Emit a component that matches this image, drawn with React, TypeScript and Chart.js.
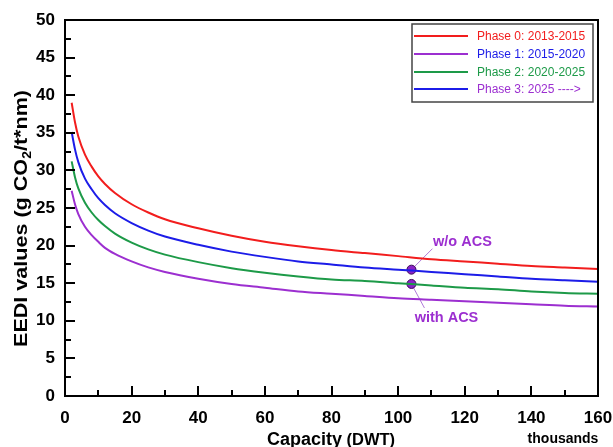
import React, { useEffect, useRef } from 'react';
import { Chart, registerables } from 'chart.js';

Chart.register(...registerables);

// ---- data ----
const capacity = [2, 3, 4, 6, 8, 10, 12, 15, 20, 25, 30, 40, 50, 60, 70, 80, 90, 100, 110, 120, 130, 140, 150, 160];
const phase0 = [39.0, 36.4, 34.5, 32.1, 30.5, 29.2, 28.2, 27.0, 25.5, 24.4, 23.5, 22.3, 21.3, 20.5, 19.9, 19.4, 19.0, 18.6, 18.2, 17.9, 17.6, 17.3, 17.1, 16.9];
const phase1 = [35.1, 32.8, 31.1, 28.9, 27.5, 26.3, 25.4, 24.3, 23.0, 22.0, 21.2, 20.1, 19.2, 18.5, 17.9, 17.5, 17.1, 16.8, 16.5, 16.2, 15.9, 15.6, 15.4, 15.2];
const phase2 = [31.2, 29.1, 27.6, 25.7, 24.4, 23.4, 22.6, 21.6, 20.4, 19.5, 18.8, 17.8, 17.0, 16.4, 15.9, 15.5, 15.3, 15.0, 14.7, 14.4, 14.2, 13.9, 13.7, 13.6];
const phase3 = [27.3, 25.5, 24.2, 22.5, 21.4, 20.5, 19.7, 18.9, 17.9, 17.1, 16.5, 15.6, 14.9, 14.4, 13.9, 13.6, 13.3, 13.0, 12.8, 12.6, 12.4, 12.2, 12.0, 11.9];

const seriesLabels = ['Phase 0: 2013-2015', 'Phase 1: 2015-2020', 'Phase 2: 2020-2025', 'Phase 3: 2025 ---->'];
const seriesColors = ['#f21d1d', '#1c1ce8', '#1d9a48', '#9c2fd0'];
// legend sample lines / texts as they appear in the reference
const legendLineColors = ['#f21d1d', '#9c2fd0', '#1d9a48', '#1c1ce8'];
const legendTextColors = ['#f21d1d', '#1c1ce8', '#1d9a48', '#9c2fd0'];

const markerX = [104, 104];
const markerY = [16.8, 14.9];
const markerLabels = ['w/o ACS', 'with ACS'];

const xMin = 0, xMax = 160, xMajor = 20, xMinor = 10;
const yMin = 0, yMax = 50, yMajor = 5, yMinor = 2.5;

const yTitleA = 'EEDI values (g CO';
const yTitleSub = '2';
const yTitleB = '/t*nm)';
const xTitleMain = 'Capacity';
const xTitleUnit = ' (DWT)';
const xUnitNote = 'thousands';

const FONT = '"Liberation Sans", Arial, Helvetica, sans-serif';
const PURPLE = '#9c2fd0';

const decorPlugin = {
  id: 'decor',
  beforeDatasetsDraw(chart: any) {
    const { ctx, scales } = chart;
    const xs = scales.x, ys = scales.y;
    ctx.save();
    ctx.strokeStyle = '#b07ad8';
    ctx.lineWidth = 1;
    const p0x = xs.getPixelForValue(markerX[0]);
    const p0y = ys.getPixelForValue(markerY[0]);
    ctx.beginPath();
    ctx.moveTo(p0x, p0y);
    ctx.lineTo(p0x + 21, p0y - 21);
    ctx.stroke();
    const p1x = xs.getPixelForValue(markerX[1]);
    const p1y = ys.getPixelForValue(markerY[1]);
    ctx.beginPath();
    ctx.moveTo(p1x, p1y);
    ctx.lineTo(p1x + 13, p1y + 24);
    ctx.stroke();
    ctx.restore();
  },
  afterDraw(chart: any) {
    const { ctx, chartArea, scales } = chart;
    const xs = scales.x, ys = scales.y;
    const { left, right, top, bottom } = chartArea;
    ctx.save();
    // frame
    ctx.strokeStyle = '#000';
    ctx.lineWidth = 2;
    ctx.strokeRect(left, top, right - left, bottom - top);
    // inward ticks
    ctx.beginPath();
    for (let v = xMin; v <= xMax + 1e-9; v += xMinor) {
      const px = Math.round(xs.getPixelForValue(v));
      const len = Math.abs(v % xMajor) < 1e-9 ? 10 : 6;
      ctx.moveTo(px, bottom);
      ctx.lineTo(px, bottom - len);
    }
    for (let v = yMin; v <= yMax + 1e-9; v += yMinor) {
      const py = Math.round(ys.getPixelForValue(v));
      const len = Math.abs(v % yMajor) < 1e-9 ? 10 : 6;
      ctx.moveTo(left, py);
      ctx.lineTo(left + len, py);
    }
    ctx.stroke();

    // legend
    const bw = 181, bh = 78;
    const bx = right - 5 - bw, by = top + 4;
    ctx.fillStyle = '#fff';
    ctx.fillRect(bx, by, bw, bh);
    ctx.strokeStyle = '#444';
    ctx.lineWidth = 1.5;
    ctx.strokeRect(bx, by, bw, bh);
    const rows = [12, 30, 48, 65];
    ctx.font = `12px ${FONT}`;
    ctx.textBaseline = 'middle';
    ctx.textAlign = 'left';
    for (let i = 0; i < seriesLabels.length; i++) {
      const ry = by + rows[i];
      ctx.strokeStyle = legendLineColors[i];
      ctx.lineWidth = 2;
      ctx.beginPath();
      ctx.moveTo(bx + 2, ry);
      ctx.lineTo(bx + 56, ry);
      ctx.stroke();
      ctx.fillStyle = legendTextColors[i];
      ctx.fillText(seriesLabels[i], bx + 65, ry + 1);
    }

    // annotation texts
    ctx.fillStyle = PURPLE;
    ctx.font = `bold 14.5px ${FONT}`;
    ctx.textAlign = 'center';
    const p0x = xs.getPixelForValue(markerX[0]);
    const p0y = ys.getPixelForValue(markerY[0]);
    ctx.fillText(markerLabels[0], p0x + 51, p0y - 28);
    const p1x = xs.getPixelForValue(markerX[1]);
    const p1y = ys.getPixelForValue(markerY[1]);
    ctx.fillText(markerLabels[1], p1x + 35, p1y + 34);

    // y title (rotated, with subscript)
    ctx.fillStyle = '#000';
    ctx.textBaseline = 'alphabetic';
    ctx.textAlign = 'left';
    const big = `bold 18.5px ${FONT}`;
    const small = `bold 12px ${FONT}`;
    ctx.font = big;
    const wA = ctx.measureText(yTitleA).width;
    const wB = ctx.measureText(yTitleB).width;
    ctx.font = small;
    const wS = ctx.measureText(yTitleSub).width;
    const total = wA + wS + wB;
    const target = 257;
    const sc = target / total;
    ctx.translate(27, 218.5);
    ctx.rotate(-Math.PI / 2);
    ctx.scale(sc, 1);
    let cx = -total / 2;
    ctx.font = big;
    ctx.fillText(yTitleA, cx, 0);
    cx += wA;
    ctx.font = small;
    ctx.fillText(yTitleSub, cx, 4);
    cx += wS;
    ctx.font = big;
    ctx.fillText(yTitleB, cx, 0);
    ctx.setTransform(1, 0, 0, 1, 0, 0);

    // x title
    ctx.font = `bold 18px ${FONT}`;
    const wM = ctx.measureText(xTitleMain).width;
    ctx.font = `bold 16.5px ${FONT}`;
    const wU = ctx.measureText(xTitleUnit).width;
    const tx = 331 - (wM + wU) / 2;
    ctx.textAlign = 'left';
    ctx.font = `bold 18px ${FONT}`;
    ctx.fillText(xTitleMain, tx, 445);
    ctx.font = `bold 16.5px ${FONT}`;
    ctx.fillText(xTitleUnit, tx + wM, 445);

    ctx.font = `bold 14px ${FONT}`;
    ctx.textAlign = 'center';
    ctx.fillText(xUnitNote, 563, 443);
    ctx.restore();
  },
};

export default function App() {
  const ref = useRef<HTMLCanvasElement | null>(null);
  useEffect(() => {
    document.body.style.margin = '0';
    const canvas = ref.current;
    if (!canvas) return;
    const mk = (ys: number[]) => capacity.map((x, i) => ({ x, y: ys[i] }));
    const series = [phase0, phase1, phase2, phase3];
    const datasets: any[] = series.map((s, i) => ({
      type: 'line',
      label: seriesLabels[i],
      data: mk(s),
      borderColor: seriesColors[i],
      backgroundColor: seriesColors[i],
      borderWidth: 2,
      pointRadius: 0,
      cubicInterpolationMode: 'monotone',
      fill: false,
    }));
    datasets.push({
      type: 'scatter',
      label: 'markers',
      data: markerX.map((x, i) => ({ x, y: markerY[i] })),
      backgroundColor: '#8a22c8',
      borderColor: '#3a0a55',
      borderWidth: 1,
      pointRadius: 4.5,
      showLine: false,
    });
    const chart = new Chart(canvas, {
      type: 'line',
      data: { datasets },
      plugins: [decorPlugin],
      options: {
        responsive: false,
        animation: false,
        devicePixelRatio: 1,
        layout: { padding: { top: 20, right: 15, left: 0, bottom: 0 } },
        plugins: { legend: { display: false }, tooltip: { enabled: false } },
        scales: {
          x: {
            type: 'linear',
            min: xMin,
            max: xMax,
            ticks: { stepSize: xMajor, color: '#000', font: { family: FONT, size: 17, weight: 'bold' }, padding: 12, maxRotation: 0 },
            grid: { display: false, drawTicks: false },
            border: { display: false },
            afterFit: (s: any) => { s.height = 51; s.paddingLeft = 0; s.paddingRight = 0; },
          },
          y: {
            type: 'linear',
            min: yMin,
            max: yMax,
            ticks: { stepSize: yMajor, color: '#000', font: { family: FONT, size: 17, weight: 'bold' }, padding: 10 },
            grid: { display: false, drawTicks: false },
            border: { display: false },
            afterFit: (s: any) => { s.width = 65; s.paddingTop = 0; s.paddingBottom = 0; },
          },
        },
      } as any,
    });
    return () => chart.destroy();
  }, []);
  return <canvas ref={ref} width={613} height={447} style={{ display: 'block' }} />;
}
